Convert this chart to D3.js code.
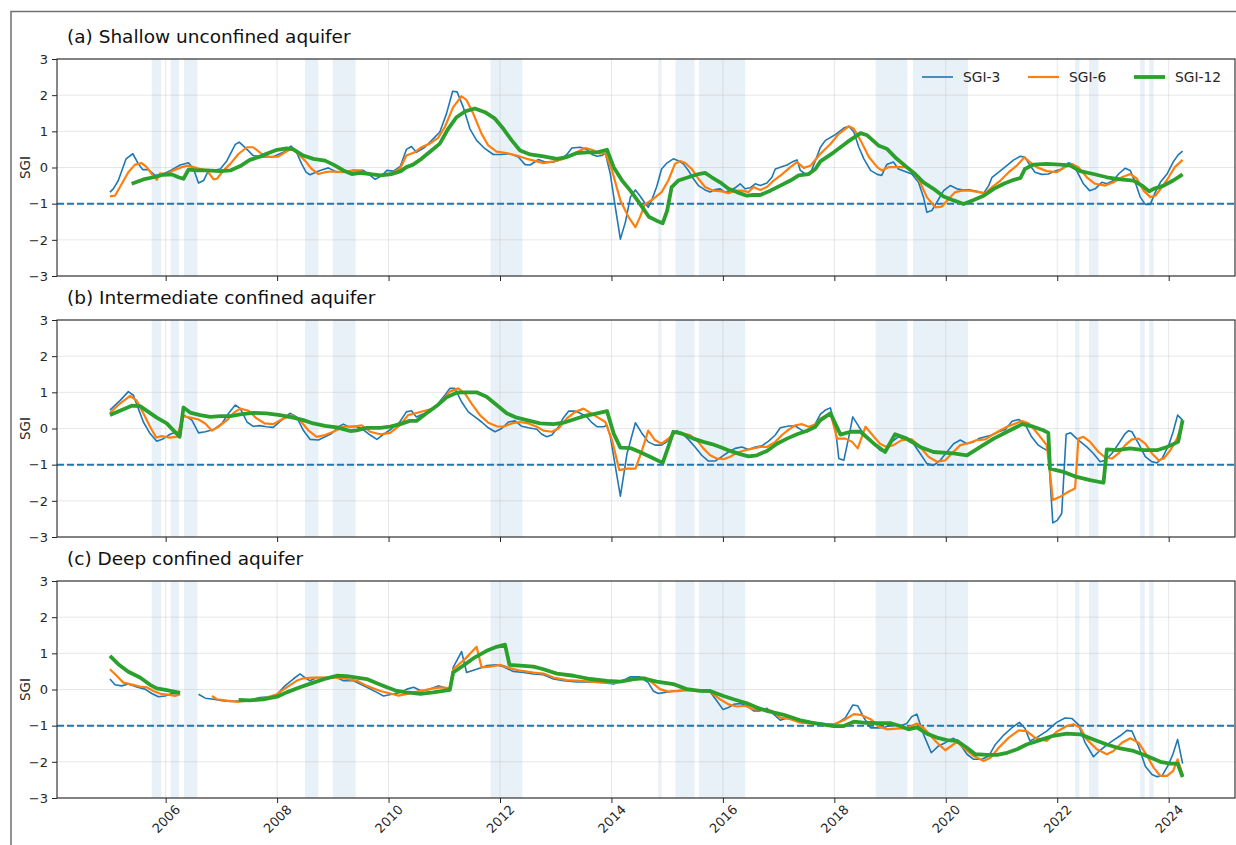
<!doctype html>
<html lang="en">
<head>
<meta charset="utf-8">
<title>SGI-3 / SGI-6 / SGI-12</title>
<script src="https://cdn.jsdelivr.net/npm/d3@7"></script>
<style>
  body { margin: 0; background: #fff; }
  svg { display: block; font-family: "DejaVu Sans", sans-serif; }
</style>
</head>
<body>
<svg id="chart" width="1236" height="845"></svg>
<script>
// ---- data (decimal year, SGI) ----
var panelTitles = ['(a) Shallow unconfined aquifer', '(b) Intermediate confined aquifer', '(c) Deep confined aquifer'];
var seriesNames = ['SGI-3', 'SGI-6', 'SGI-12'];
var yearTicks = [2006, 2008, 2010, 2012, 2014, 2016, 2018, 2020, 2022, 2024];
var sgiTicks = [-3, -2, -1, 0, 1, 2, 3];
var threshold = -1;

// drought periods (shaded)
var dryPeriods = [
  [2005.75, 2005.92], [2006.09, 2006.24], [2006.33, 2006.57],
  [2008.50, 2008.74], [2009.00, 2009.41],
  [2011.83, 2012.40],
  [2014.84, 2014.90], [2015.15, 2015.49], [2015.57, 2016.40],
  [2018.74, 2019.31], [2019.41, 2020.40],
  [2022.32, 2022.40], [2022.57, 2022.74],
  [2023.49, 2023.57], [2023.65, 2023.73]
];

var shallow3 = [[2005.00,-0.68],[2005.06,-0.59],[2005.15,-0.36],[2005.29,0.24],[2005.41,0.38],[2005.51,0.10],[2005.59,-0.06],[2005.69,-0.06],[2005.81,-0.22],[2005.96,-0.18],[2006.09,-0.08],[2006.26,0.07],[2006.41,0.13],[2006.50,-0.04],[2006.59,-0.43],[2006.68,-0.36],[2006.77,-0.08],[2006.86,-0.08],[2006.98,-0.04],[2007.10,0.19],[2007.25,0.64],[2007.32,0.70],[2007.46,0.50],[2007.57,0.33],[2007.75,0.29],[2007.93,0.30],[2008.11,0.42],[2008.25,0.59],[2008.35,0.42],[2008.44,0.10],[2008.52,-0.13],[2008.59,-0.20],[2008.77,-0.08],[2008.92,-0.01],[2009.07,-0.13],[2009.25,-0.13],[2009.37,-0.08],[2009.55,-0.08],[2009.67,-0.22],[2009.76,-0.33],[2009.88,-0.22],[2009.97,-0.08],[2010.09,-0.10],[2010.21,0.03],[2010.32,0.50],[2010.41,0.58],[2010.50,0.42],[2010.65,0.56],[2010.80,0.79],[2010.92,0.98],[2011.04,1.49],[2011.15,2.11],[2011.23,2.09],[2011.34,1.67],[2011.46,1.07],[2011.58,0.75],[2011.73,0.52],[2011.88,0.36],[2012.00,0.36],[2012.18,0.38],[2012.33,0.29],[2012.45,0.08],[2012.54,0.07],[2012.69,0.22],[2012.81,0.15],[2012.96,0.15],[2013.08,0.21],[2013.20,0.36],[2013.29,0.54],[2013.44,0.56],[2013.56,0.50],[2013.65,0.36],[2013.74,0.31],[2013.83,0.33],[2013.89,0.40],[2013.98,-0.18],[2014.07,-1.10],[2014.16,-1.98],[2014.25,-1.51],[2014.34,-0.82],[2014.43,-0.62],[2014.51,-0.78],[2014.60,-0.98],[2014.66,-1.10],[2014.72,-0.91],[2014.81,-0.54],[2014.90,-0.04],[2015.00,0.13],[2015.11,0.24],[2015.20,0.19],[2015.29,0.10],[2015.38,-0.08],[2015.47,-0.31],[2015.56,-0.50],[2015.68,-0.62],[2015.77,-0.68],[2015.86,-0.61],[2015.95,-0.59],[2016.04,-0.68],[2016.13,-0.64],[2016.22,-0.56],[2016.31,-0.45],[2016.40,-0.59],[2016.49,-0.56],[2016.58,-0.45],[2016.67,-0.50],[2016.79,-0.43],[2016.88,-0.27],[2016.94,-0.04],[2017.03,0.01],[2017.15,0.07],[2017.24,0.15],[2017.33,0.21],[2017.39,-0.08],[2017.48,-0.18],[2017.57,-0.16],[2017.66,0.19],[2017.75,0.56],[2017.84,0.75],[2018.00,0.89],[2018.17,1.09],[2018.26,1.14],[2018.35,0.98],[2018.44,0.56],[2018.53,0.24],[2018.65,-0.08],[2018.77,-0.19],[2018.85,-0.22],[2018.94,0.08],[2019.06,0.15],[2019.15,-0.04],[2019.27,-0.11],[2019.39,-0.18],[2019.51,-0.41],[2019.60,-0.82],[2019.66,-1.24],[2019.75,-1.19],[2019.84,-0.96],[2019.96,-0.64],[2020.08,-0.50],[2020.20,-0.59],[2020.32,-0.62],[2020.44,-0.62],[2020.56,-0.66],[2020.68,-0.71],[2020.77,-0.50],[2020.83,-0.27],[2020.95,-0.13],[2021.10,0.06],[2021.22,0.21],[2021.34,0.31],[2021.42,0.28],[2021.51,0.06],[2021.60,-0.13],[2021.72,-0.19],[2021.84,-0.18],[2021.96,-0.10],[2022.08,-0.04],[2022.20,0.13],[2022.29,0.08],[2022.38,-0.18],[2022.47,-0.45],[2022.58,-0.64],[2022.68,-0.59],[2022.80,-0.41],[2022.89,-0.45],[2023.01,-0.36],[2023.10,-0.18],[2023.22,-0.02],[2023.31,-0.08],[2023.40,-0.41],[2023.49,-0.82],[2023.58,-1.02],[2023.67,-1.02],[2023.76,-0.68],[2023.85,-0.41],[2023.97,-0.18],[2024.08,0.15],[2024.17,0.35],[2024.25,0.45]];
var shallow6 = [[2005.00,-0.80],[2005.09,-0.78],[2005.18,-0.54],[2005.33,-0.13],[2005.45,0.08],[2005.57,0.12],[2005.66,0.01],[2005.75,-0.18],[2005.84,-0.34],[2005.90,-0.16],[2006.02,-0.18],[2006.14,-0.08],[2006.29,0.01],[2006.38,0.05],[2006.50,0.01],[2006.62,-0.04],[2006.74,-0.08],[2006.86,-0.33],[2006.92,-0.31],[2007.04,-0.08],[2007.16,0.10],[2007.31,0.38],[2007.46,0.56],[2007.57,0.56],[2007.72,0.38],[2007.87,0.29],[2008.02,0.30],[2008.17,0.45],[2008.26,0.52],[2008.38,0.38],[2008.50,0.19],[2008.62,-0.04],[2008.74,-0.18],[2008.86,-0.13],[2008.98,-0.11],[2009.19,-0.13],[2009.37,-0.08],[2009.49,-0.10],[2009.67,-0.18],[2009.85,-0.22],[2010.03,-0.19],[2010.21,-0.02],[2010.32,0.33],[2010.47,0.42],[2010.59,0.56],[2010.74,0.66],[2010.89,0.82],[2011.01,1.12],[2011.16,1.67],[2011.31,1.97],[2011.40,1.86],[2011.52,1.49],[2011.67,0.93],[2011.79,0.61],[2011.94,0.44],[2012.12,0.40],[2012.30,0.33],[2012.48,0.24],[2012.66,0.17],[2012.78,0.12],[2012.96,0.17],[2013.14,0.24],[2013.32,0.38],[2013.53,0.54],[2013.65,0.49],[2013.80,0.38],[2013.89,0.40],[2014.01,-0.08],[2014.16,-0.91],[2014.31,-1.38],[2014.43,-1.65],[2014.51,-1.38],[2014.60,-1.02],[2014.75,-0.87],[2014.90,-0.68],[2015.02,-0.36],[2015.14,0.10],[2015.23,0.18],[2015.32,0.13],[2015.44,-0.04],[2015.56,-0.31],[2015.68,-0.54],[2015.83,-0.64],[2015.98,-0.66],[2016.10,-0.71],[2016.22,-0.64],[2016.34,-0.64],[2016.46,-0.68],[2016.55,-0.54],[2016.67,-0.62],[2016.79,-0.54],[2016.91,-0.36],[2017.06,-0.19],[2017.21,0.01],[2017.33,0.15],[2017.45,-0.01],[2017.57,0.05],[2017.75,0.38],[2017.93,0.65],[2018.08,0.93],[2018.26,1.14],[2018.35,1.07],[2018.47,0.75],[2018.62,0.29],[2018.77,0.01],[2018.85,-0.08],[2018.97,0.01],[2019.12,0.01],[2019.30,0.01],[2019.42,-0.13],[2019.54,-0.41],[2019.66,-0.82],[2019.81,-1.10],[2019.93,-1.08],[2020.05,-0.87],[2020.17,-0.68],[2020.29,-0.64],[2020.44,-0.64],[2020.59,-0.68],[2020.71,-0.71],[2020.83,-0.54],[2020.98,-0.36],[2021.13,-0.13],[2021.28,0.06],[2021.41,0.28],[2021.51,0.15],[2021.63,0.01],[2021.81,-0.10],[2021.99,-0.13],[2022.14,0.01],[2022.26,0.10],[2022.38,0.01],[2022.53,-0.27],[2022.68,-0.45],[2022.86,-0.50],[2023.01,-0.41],[2023.16,-0.27],[2023.31,-0.18],[2023.43,-0.31],[2023.55,-0.64],[2023.67,-0.82],[2023.76,-0.78],[2023.88,-0.54],[2024.00,-0.27],[2024.11,0.01],[2024.25,0.21]];
var shallow12 = [[2005.39,-0.45],[2005.60,-0.33],[2005.78,-0.27],[2005.96,-0.20],[2006.11,-0.19],[2006.23,-0.27],[2006.32,-0.31],[2006.41,-0.06],[2006.56,-0.08],[2006.74,-0.08],[2006.98,-0.10],[2007.16,-0.08],[2007.34,0.04],[2007.51,0.21],[2007.69,0.30],[2007.81,0.38],[2008.00,0.49],[2008.17,0.53],[2008.29,0.50],[2008.47,0.33],[2008.65,0.24],[2008.86,0.19],[2009.01,0.08],[2009.19,-0.08],[2009.34,-0.18],[2009.49,-0.15],[2009.67,-0.18],[2009.85,-0.22],[2010.06,-0.18],[2010.22,-0.10],[2010.32,0.01],[2010.44,0.08],[2010.59,0.24],[2010.77,0.47],[2010.92,0.66],[2011.07,1.07],[2011.22,1.39],[2011.37,1.55],[2011.55,1.63],[2011.73,1.53],[2011.91,1.35],[2012.06,1.07],[2012.21,0.75],[2012.36,0.47],[2012.54,0.36],[2012.78,0.31],[2013.02,0.24],[2013.20,0.29],[2013.38,0.40],[2013.56,0.42],[2013.74,0.42],[2013.92,0.49],[2014.04,0.01],[2014.19,-0.36],[2014.34,-0.64],[2014.49,-0.96],[2014.67,-1.36],[2014.81,-1.47],[2014.92,-1.54],[2015.00,-1.19],[2015.08,-0.54],[2015.20,-0.36],[2015.38,-0.27],[2015.56,-0.18],[2015.68,-0.15],[2015.80,-0.27],[2015.95,-0.41],[2016.10,-0.59],[2016.25,-0.68],[2016.43,-0.78],[2016.55,-0.76],[2016.67,-0.76],[2016.85,-0.64],[2017.03,-0.50],[2017.21,-0.36],[2017.36,-0.22],[2017.54,-0.18],[2017.66,-0.04],[2017.75,0.17],[2017.99,0.42],[2018.23,0.70],[2018.47,0.95],[2018.59,0.89],[2018.79,0.61],[2018.94,0.52],[2019.12,0.24],[2019.30,0.01],[2019.45,-0.18],[2019.60,-0.41],[2019.78,-0.59],[2019.96,-0.80],[2020.14,-0.91],[2020.32,-1.01],[2020.50,-0.90],[2020.68,-0.78],[2020.86,-0.59],[2021.04,-0.45],[2021.22,-0.34],[2021.34,-0.29],[2021.42,-0.04],[2021.57,0.08],[2021.81,0.10],[2022.05,0.08],[2022.23,0.06],[2022.41,-0.10],[2022.65,-0.18],[2022.89,-0.27],[2023.13,-0.33],[2023.37,-0.36],[2023.52,-0.50],[2023.65,-0.66],[2023.73,-0.59],[2023.91,-0.50],[2024.08,-0.36],[2024.25,-0.19]];

var inter3 = [[2005.00,0.51],[2005.18,0.77],[2005.33,1.02],[2005.42,0.92],[2005.51,0.55],[2005.60,0.18],[2005.72,-0.14],[2005.84,-0.35],[2005.96,-0.28],[2006.08,-0.16],[2006.20,-0.09],[2006.26,-0.23],[2006.32,0.37],[2006.38,0.32],[2006.47,0.23],[2006.59,-0.12],[2006.71,-0.09],[2006.86,-0.03],[2007.01,0.14],[2007.13,0.42],[2007.25,0.65],[2007.34,0.55],[2007.46,0.18],[2007.57,0.06],[2007.69,0.08],[2007.81,0.05],[2007.93,0.03],[2008.08,0.23],[2008.23,0.42],[2008.35,0.32],[2008.47,-0.05],[2008.59,-0.30],[2008.74,-0.32],[2008.86,-0.23],[2008.98,-0.14],[2009.10,0.05],[2009.19,0.12],[2009.28,0.05],[2009.40,0.06],[2009.52,0.00],[2009.67,-0.18],[2009.79,-0.30],[2009.91,-0.16],[2010.06,0.00],[2010.20,0.18],[2010.32,0.46],[2010.41,0.49],[2010.50,0.32],[2010.62,0.40],[2010.74,0.46],[2010.89,0.69],[2011.01,0.92],[2011.10,1.11],[2011.19,1.11],[2011.31,0.74],[2011.43,0.46],[2011.55,0.32],[2011.67,0.18],[2011.79,0.02],[2011.91,-0.09],[2012.03,0.00],[2012.15,0.18],[2012.27,0.21],[2012.39,0.06],[2012.51,0.02],[2012.66,-0.02],[2012.75,-0.16],[2012.84,-0.23],[2012.93,-0.18],[2013.05,0.05],[2013.14,0.30],[2013.23,0.48],[2013.35,0.48],[2013.44,0.42],[2013.56,0.32],[2013.65,0.16],[2013.74,0.05],[2013.86,0.05],[2013.92,0.09],[2013.98,-0.23],[2014.16,-1.87],[2014.28,-0.69],[2014.43,0.16],[2014.55,-0.14],[2014.66,-0.37],[2014.78,-0.46],[2014.90,-0.46],[2014.99,-0.37],[2015.08,-0.18],[2015.17,-0.06],[2015.26,-0.12],[2015.38,-0.30],[2015.50,-0.51],[2015.62,-0.74],[2015.74,-0.90],[2015.86,-0.90],[2015.98,-0.78],[2016.10,-0.65],[2016.22,-0.55],[2016.34,-0.51],[2016.46,-0.58],[2016.58,-0.51],[2016.70,-0.48],[2016.82,-0.35],[2016.94,-0.18],[2017.03,0.02],[2017.18,0.07],[2017.30,0.07],[2017.42,-0.05],[2017.51,-0.09],[2017.63,0.05],[2017.75,0.40],[2017.84,0.51],[2017.93,0.57],[2018.02,0.00],[2018.08,-0.83],[2018.17,-0.88],[2018.26,-0.23],[2018.33,0.32],[2018.44,0.05],[2018.56,-0.23],[2018.71,-0.42],[2018.82,-0.60],[2018.91,-0.65],[2019.03,-0.37],[2019.15,-0.23],[2019.27,-0.30],[2019.42,-0.42],[2019.54,-0.69],[2019.66,-0.97],[2019.78,-1.02],[2019.90,-0.88],[2020.02,-0.65],[2020.14,-0.42],[2020.26,-0.32],[2020.38,-0.42],[2020.50,-0.37],[2020.59,-0.28],[2020.71,-0.23],[2020.83,-0.18],[2020.95,-0.09],[2021.07,-0.03],[2021.19,0.20],[2021.31,0.25],[2021.43,0.09],[2021.54,-0.23],[2021.66,-0.46],[2021.75,-0.55],[2021.84,-0.62],[2021.92,-2.61],[2022.00,-2.54],[2022.08,-2.35],[2022.16,-0.16],[2022.24,-0.12],[2022.38,-0.32],[2022.53,-0.51],[2022.65,-0.69],[2022.77,-0.92],[2022.86,-0.88],[2022.98,-0.69],[2023.10,-0.42],[2023.22,-0.14],[2023.28,-0.06],[2023.34,-0.09],[2023.46,-0.42],[2023.58,-0.78],[2023.70,-0.92],[2023.79,-0.95],[2023.88,-0.83],[2024.00,-0.46],[2024.08,-0.09],[2024.16,0.37],[2024.25,0.23]];
var inter6 = [[2005.00,0.43],[2005.18,0.69],[2005.36,0.90],[2005.48,0.77],[2005.60,0.42],[2005.72,0.05],[2005.83,-0.25],[2005.93,-0.21],[2006.05,-0.25],[2006.20,-0.23],[2006.32,0.34],[2006.44,0.30],[2006.59,0.25],[2006.71,0.14],[2006.83,-0.06],[2006.95,0.05],[2007.10,0.23],[2007.22,0.43],[2007.34,0.55],[2007.49,0.49],[2007.63,0.28],[2007.78,0.14],[2007.93,0.12],[2008.08,0.25],[2008.26,0.37],[2008.41,0.23],[2008.56,-0.05],[2008.71,-0.23],[2008.86,-0.18],[2009.01,-0.09],[2009.19,0.05],[2009.37,0.05],[2009.52,0.09],[2009.67,-0.09],[2009.85,-0.16],[2010.03,-0.12],[2010.21,0.10],[2010.35,0.37],[2010.50,0.43],[2010.65,0.49],[2010.80,0.55],[2010.95,0.74],[2011.10,1.02],[2011.25,1.11],[2011.37,0.97],[2011.49,0.69],[2011.64,0.37],[2011.79,0.16],[2011.94,0.06],[2012.06,0.05],[2012.21,0.14],[2012.36,0.18],[2012.51,0.14],[2012.66,0.05],[2012.78,-0.06],[2012.93,-0.09],[2013.05,0.00],[2013.20,0.28],[2013.35,0.46],[2013.50,0.55],[2013.62,0.43],[2013.74,0.32],[2013.89,0.18],[2014.01,-0.32],[2014.14,-1.15],[2014.28,-1.11],[2014.43,-1.11],[2014.55,-0.60],[2014.66,-0.06],[2014.78,-0.32],[2014.90,-0.42],[2015.02,-0.28],[2015.17,-0.09],[2015.29,-0.14],[2015.41,-0.18],[2015.53,-0.32],[2015.65,-0.55],[2015.77,-0.74],[2015.89,-0.83],[2016.01,-0.85],[2016.13,-0.78],[2016.25,-0.67],[2016.40,-0.60],[2016.55,-0.55],[2016.67,-0.51],[2016.79,-0.51],[2016.94,-0.37],[2017.06,-0.18],[2017.18,-0.03],[2017.30,0.09],[2017.42,0.12],[2017.54,0.05],[2017.66,0.12],[2017.75,0.27],[2017.93,0.43],[2018.05,-0.28],[2018.20,-0.28],[2018.32,-0.37],[2018.42,-0.55],[2018.56,0.05],[2018.71,-0.23],[2018.82,-0.42],[2018.94,-0.51],[2019.06,-0.46],[2019.21,-0.32],[2019.39,-0.30],[2019.54,-0.51],[2019.69,-0.78],[2019.84,-0.92],[2019.99,-0.88],[2020.11,-0.69],[2020.26,-0.46],[2020.41,-0.40],[2020.56,-0.32],[2020.71,-0.30],[2020.83,-0.18],[2020.98,-0.05],[2021.10,0.05],[2021.25,0.14],[2021.37,0.21],[2021.49,0.14],[2021.60,-0.05],[2021.72,-0.28],[2021.81,-0.46],[2021.86,-1.06],[2021.92,-1.98],[2022.05,-1.89],[2022.20,-1.75],[2022.32,-1.66],[2022.38,-0.28],[2022.47,-0.23],[2022.59,-0.37],[2022.74,-0.65],[2022.86,-0.80],[2022.98,-0.83],[2023.10,-0.69],[2023.22,-0.46],[2023.34,-0.30],[2023.46,-0.28],[2023.58,-0.42],[2023.70,-0.69],[2023.82,-0.88],[2023.91,-0.83],[2024.03,-0.60],[2024.15,-0.28],[2024.25,0.18]];
var inter12 = [[2005.00,0.37],[2005.18,0.49],[2005.39,0.63],[2005.54,0.62],[2005.69,0.46],[2005.84,0.30],[2006.02,0.14],[2006.14,-0.05],[2006.25,-0.23],[2006.32,0.58],[2006.44,0.44],[2006.62,0.37],[2006.80,0.32],[2006.98,0.34],[2007.16,0.34],[2007.34,0.39],[2007.57,0.43],[2007.81,0.42],[2008.05,0.37],[2008.29,0.30],[2008.47,0.23],[2008.65,0.14],[2008.86,0.07],[2009.07,0.03],[2009.31,-0.07],[2009.43,-0.05],[2009.61,0.02],[2009.85,0.02],[2010.03,0.05],[2010.21,0.12],[2010.38,0.21],[2010.50,0.21],[2010.68,0.42],[2010.86,0.62],[2011.04,0.86],[2011.22,0.99],[2011.40,1.00],[2011.58,1.00],[2011.76,0.88],[2011.94,0.65],[2012.12,0.42],[2012.30,0.30],[2012.48,0.23],[2012.72,0.14],[2012.96,0.12],[2013.14,0.16],[2013.32,0.25],[2013.50,0.34],[2013.68,0.40],[2013.92,0.48],[2014.04,-0.14],[2014.16,-0.53],[2014.34,-0.54],[2014.51,-0.65],[2014.72,-0.80],[2014.92,-0.95],[2015.02,-0.51],[2015.11,-0.09],[2015.26,-0.14],[2015.47,-0.28],[2015.65,-0.37],[2015.80,-0.43],[2015.95,-0.51],[2016.13,-0.62],[2016.31,-0.71],[2016.46,-0.77],[2016.61,-0.74],[2016.79,-0.62],[2016.97,-0.42],[2017.15,-0.28],[2017.33,-0.16],[2017.51,-0.06],[2017.66,0.05],[2017.75,0.23],[2017.93,0.42],[2018.11,-0.17],[2018.29,-0.09],[2018.47,-0.09],[2018.71,-0.42],[2018.91,-0.65],[2019.09,-0.16],[2019.30,-0.28],[2019.54,-0.51],[2019.78,-0.65],[2020.14,-0.69],[2020.38,-0.74],[2020.62,-0.51],[2020.86,-0.28],[2021.10,-0.09],[2021.37,0.12],[2021.57,0.05],[2021.75,-0.05],[2021.84,-0.12],[2021.87,-1.11],[2022.11,-1.20],[2022.35,-1.34],[2022.59,-1.43],[2022.83,-1.50],[2022.89,-0.58],[2023.07,-0.60],[2023.31,-0.55],[2023.55,-0.60],[2023.79,-0.60],[2023.97,-0.51],[2024.17,-0.37],[2024.25,0.23]];

// deep series have a gap in 2006-2007 (null)
var deep3 = [[2005.00,0.29],[2005.09,0.13],[2005.21,0.10],[2005.33,0.15],[2005.48,0.07],[2005.63,0.01],[2005.75,-0.11],[2005.87,-0.20],[2005.99,-0.18],[2006.11,-0.11],[2006.26,-0.13],[2006.40,null],[2006.59,-0.13],[2006.71,-0.24],[2006.86,-0.27],[2007.01,-0.31],[2007.16,-0.33],[2007.34,-0.31],[2007.51,-0.30],[2007.69,-0.22],[2007.87,-0.20],[2008.00,-0.13],[2008.14,0.10],[2008.29,0.29],[2008.41,0.43],[2008.50,0.33],[2008.59,0.24],[2008.71,0.33],[2008.89,0.33],[2009.07,0.33],[2009.19,0.24],[2009.37,0.24],[2009.49,0.15],[2009.61,0.06],[2009.79,-0.08],[2009.91,-0.18],[2010.06,-0.13],[2010.21,-0.08],[2010.33,0.01],[2010.45,0.06],[2010.57,-0.03],[2010.68,-0.02],[2010.89,0.10],[2010.98,0.06],[2011.10,0.01],[2011.16,0.61],[2011.31,1.05],[2011.40,0.47],[2011.58,0.56],[2011.76,0.66],[2011.94,0.68],[2012.06,0.63],[2012.24,0.50],[2012.42,0.47],[2012.60,0.43],[2012.78,0.41],[2012.96,0.29],[2013.14,0.24],[2013.38,0.21],[2013.62,0.21],[2013.86,0.19],[2014.04,0.15],[2014.22,0.26],[2014.34,0.35],[2014.51,0.35],[2014.66,0.19],[2014.75,-0.04],[2014.84,-0.11],[2014.96,-0.08],[2015.11,-0.04],[2015.29,-0.02],[2015.47,-0.02],[2015.65,-0.06],[2015.77,-0.06],[2015.89,-0.31],[2016.00,-0.55],[2016.10,-0.50],[2016.19,-0.41],[2016.31,-0.39],[2016.43,-0.45],[2016.55,-0.59],[2016.67,-0.59],[2016.79,-0.52],[2016.91,-0.68],[2017.03,-0.85],[2017.15,-0.79],[2017.27,-0.82],[2017.39,-0.87],[2017.57,-0.93],[2017.75,-0.93],[2017.93,-0.97],[2018.05,-0.94],[2018.20,-0.78],[2018.33,-0.43],[2018.42,-0.45],[2018.53,-0.78],[2018.65,-1.06],[2018.79,-1.06],[2018.91,-1.04],[2019.03,-0.98],[2019.18,-1.01],[2019.30,-0.94],[2019.39,-0.75],[2019.48,-0.68],[2019.60,-1.24],[2019.74,-1.75],[2019.87,-1.56],[2019.99,-1.47],[2020.14,-1.35],[2020.26,-1.52],[2020.38,-1.79],[2020.50,-1.93],[2020.65,-1.93],[2020.77,-1.84],[2020.89,-1.52],[2021.04,-1.26],[2021.19,-1.05],[2021.32,-0.91],[2021.42,-1.07],[2021.51,-1.42],[2021.63,-1.33],[2021.81,-1.15],[2021.99,-0.91],[2022.14,-0.79],[2022.26,-0.80],[2022.38,-0.97],[2022.50,-1.47],[2022.65,-1.86],[2022.77,-1.68],[2022.89,-1.53],[2023.01,-1.40],[2023.13,-1.28],[2023.25,-1.13],[2023.34,-1.15],[2023.46,-1.57],[2023.58,-2.12],[2023.70,-2.35],[2023.79,-2.41],[2023.88,-2.39],[2024.00,-2.07],[2024.08,-1.77],[2024.16,-1.38],[2024.25,-2.05]];
var deep6 = [[2005.00,0.56],[2005.12,0.38],[2005.24,0.19],[2005.36,0.15],[2005.54,0.08],[2005.66,0.06],[2005.78,-0.04],[2005.93,-0.13],[2006.08,-0.15],[2006.17,-0.18],[2006.26,-0.13],[2006.50,null],[2006.83,-0.18],[2006.92,-0.27],[2007.10,-0.31],[2007.28,-0.34],[2007.46,-0.31],[2007.64,-0.27],[2007.81,-0.22],[2008.00,-0.13],[2008.17,0.06],[2008.35,0.24],[2008.47,0.31],[2008.65,0.33],[2008.89,0.33],[2009.07,0.33],[2009.25,0.29],[2009.43,0.24],[2009.61,0.10],[2009.85,-0.04],[2010.03,-0.11],[2010.18,-0.17],[2010.33,-0.12],[2010.51,-0.06],[2010.74,0.01],[2010.92,0.06],[2011.10,0.04],[2011.16,0.56],[2011.37,0.84],[2011.58,1.18],[2011.67,0.61],[2011.82,0.63],[2012.00,0.68],[2012.18,0.59],[2012.36,0.52],[2012.60,0.47],[2012.78,0.44],[2012.96,0.33],[2013.20,0.26],[2013.44,0.24],[2013.68,0.21],[2013.92,0.19],[2014.10,0.19],[2014.28,0.26],[2014.46,0.31],[2014.61,0.33],[2014.73,0.19],[2014.87,0.01],[2015.02,-0.06],[2015.23,-0.04],[2015.41,-0.02],[2015.59,-0.04],[2015.77,-0.06],[2015.95,-0.27],[2016.10,-0.41],[2016.25,-0.47],[2016.40,-0.45],[2016.55,-0.55],[2016.73,-0.55],[2016.88,-0.59],[2017.03,-0.78],[2017.21,-0.82],[2017.39,-0.92],[2017.57,-0.94],[2017.75,-0.96],[2017.99,-0.96],[2018.17,-0.85],[2018.35,-0.68],[2018.47,-0.70],[2018.65,-0.82],[2018.79,-1.02],[2018.94,-1.10],[2019.12,-1.08],[2019.30,-1.07],[2019.48,-0.94],[2019.60,-1.06],[2019.81,-1.42],[2019.99,-1.68],[2020.20,-1.45],[2020.35,-1.65],[2020.50,-1.84],[2020.68,-1.98],[2020.80,-1.89],[2020.95,-1.61],[2021.13,-1.33],[2021.31,-1.13],[2021.45,-1.15],[2021.60,-1.33],[2021.81,-1.42],[2021.99,-1.17],[2022.17,-1.01],[2022.29,-0.96],[2022.41,-1.05],[2022.53,-1.38],[2022.71,-1.65],[2022.89,-1.79],[2023.01,-1.70],[2023.16,-1.47],[2023.31,-1.35],[2023.46,-1.47],[2023.58,-1.75],[2023.73,-2.16],[2023.85,-2.39],[2023.97,-2.39],[2024.08,-2.25],[2024.16,-1.93],[2024.25,-2.35]];
var deep12 = [[2005.00,0.93],[2005.15,0.70],[2005.33,0.49],[2005.54,0.33],[2005.72,0.13],[2005.84,0.03],[2006.02,-0.02],[2006.26,-0.09],[2006.80,null],[2007.31,-0.29],[2007.51,-0.30],[2007.75,-0.27],[2008.00,-0.20],[2008.17,-0.08],[2008.41,0.06],[2008.65,0.19],[2008.89,0.31],[2009.07,0.38],[2009.25,0.37],[2009.43,0.33],[2009.61,0.29],[2009.79,0.17],[2009.97,0.06],[2010.15,-0.04],[2010.33,-0.08],[2010.57,-0.12],[2010.80,-0.08],[2010.98,-0.04],[2011.10,-0.01],[2011.16,0.47],[2011.34,0.66],[2011.55,0.89],[2011.76,1.07],[2011.94,1.18],[2012.09,1.24],[2012.17,0.68],[2012.36,0.66],[2012.60,0.63],[2012.78,0.56],[2013.02,0.44],[2013.32,0.38],[2013.62,0.29],[2013.92,0.24],[2014.16,0.22],[2014.40,0.29],[2014.57,0.31],[2014.81,0.22],[2015.11,0.15],[2015.35,0.01],[2015.59,-0.04],[2015.77,-0.04],[2016.01,-0.18],[2016.19,-0.27],[2016.43,-0.38],[2016.61,-0.50],[2016.79,-0.59],[2017.09,-0.70],[2017.39,-0.85],[2017.57,-0.91],[2017.75,-0.96],[2017.99,-1.01],[2018.17,-1.01],[2018.35,-0.89],[2018.56,-0.92],[2018.77,-0.93],[2019.00,-0.93],[2019.18,-1.01],[2019.33,-1.10],[2019.48,-1.05],[2019.66,-1.22],[2019.84,-1.33],[2020.02,-1.40],[2020.20,-1.42],[2020.38,-1.61],[2020.53,-1.79],[2020.74,-1.81],[2020.92,-1.81],[2021.10,-1.75],[2021.28,-1.65],[2021.45,-1.52],[2021.69,-1.40],[2021.93,-1.28],[2022.17,-1.22],[2022.41,-1.24],[2022.65,-1.38],[2022.89,-1.52],[2023.13,-1.63],[2023.37,-1.70],[2023.61,-1.84],[2023.85,-2.00],[2024.03,-2.05],[2024.16,-2.05],[2024.25,-2.42]];

var panelSeries = [
  [shallow3, shallow6, shallow12],
  [inter3, inter6, inter12],
  [deep3, deep6, deep12]
];

// ---- layout ----
var colors = ['#1f77b4', '#ff7f0e', '#2ca02c'];
var widths = [1.6, 2.2, 3.8];
var panelTops = [59, 320, 581];
var panelH = 217;
var left = 57, right = 1235;

var svg = d3.select('#chart');

// outer figure frame
svg.append('rect')
  .attr('x', 11).attr('y', 11.5).attr('width', 1300).attr('height', 900)
  .attr('fill', 'none').attr('stroke', '#707070').attr('stroke-width', 1.5);

var x = d3.scaleLinear().domain([2004.05, 2025.19]).range([left, right]);
var fmtMinus = function(d) { return d < 0 ? '\u2212' + Math.abs(d) : String(d); };

panelSeries.forEach(function(series, i) {
  var top = panelTops[i];
  var y = d3.scaleLinear().domain([-3, 3]).range([top + panelH, top]);
  var g = svg.append('g');

  // shaded drought periods
  g.selectAll('rect.dry').data(dryPeriods).enter().append('rect')
    .attr('class', 'dry')
    .attr('x', function(d) { return x(d[0]); })
    .attr('width', function(d) { return x(d[1]) - x(d[0]); })
    .attr('y', top).attr('height', panelH)
    .attr('fill', '#1f77b4').attr('fill-opacity', 0.1);

  // grid
  g.selectAll('line.gy').data(sgiTicks).enter().append('line')
    .attr('x1', left).attr('x2', right)
    .attr('y1', function(d) { return y(d); }).attr('y2', function(d) { return y(d); })
    .attr('stroke', '#b0b0b0').attr('stroke-opacity', 0.3).attr('stroke-width', 1);
  g.selectAll('line.gx').data(yearTicks).enter().append('line')
    .attr('x1', function(d) { return x(d); }).attr('x2', function(d) { return x(d); })
    .attr('y1', top).attr('y2', top + panelH)
    .attr('stroke', '#b0b0b0').attr('stroke-opacity', 0.3).attr('stroke-width', 1);

  // -1 threshold
  g.append('line')
    .attr('x1', left).attr('x2', right)
    .attr('y1', y(threshold)).attr('y2', y(threshold))
    .attr('stroke', '#1f77b4').attr('stroke-width', 2)
    .attr('stroke-dasharray', '7,3');

  // SGI lines
  var line = d3.line()
    .defined(function(d) { return d[1] !== null; })
    .x(function(d) { return x(d[0]); })
    .y(function(d) { return y(d[1]); });

  series.forEach(function(s, k) {
    g.append('path').datum(s)
      .attr('d', line)
      .attr('fill', 'none')
      .attr('stroke', colors[k])
      .attr('stroke-width', widths[k])
      .attr('stroke-linejoin', 'round')
      .attr('stroke-linecap', 'butt');
  });

  // axes
  var yAxis = g.append('g')
    .attr('transform', 'translate(' + left + ',0)')
    .call(d3.axisLeft(y).tickValues(sgiTicks).tickSize(5).tickPadding(4).tickFormat(fmtMinus));
  yAxis.select('.domain').remove();
  yAxis.selectAll('text').attr('font-size', 13).attr('fill', '#262626').attr('font-family', '"DejaVu Sans", sans-serif');
  yAxis.selectAll('line').attr('stroke', '#262626');

  var xAxis = g.append('g')
    .attr('transform', 'translate(0,' + (top + panelH) + ')')
    .call(d3.axisBottom(x).tickValues(yearTicks).tickSize(5)
      .tickFormat(i === 2 ? d3.format('d') : function() { return ''; }));
  xAxis.select('.domain').remove();
  xAxis.selectAll('line').attr('stroke', '#262626');
  xAxis.selectAll('text')
    .attr('y', 0).attr('dy', null)
    .attr('transform', 'translate(0,21) rotate(-45)')
    .attr('text-anchor', 'middle')
    .attr('dominant-baseline', 'central')
    .attr('font-size', 13).attr('fill', '#262626')
    .attr('font-family', '"DejaVu Sans", sans-serif');

  // axes frame
  g.append('rect')
    .attr('x', left).attr('y', top).attr('width', right - left).attr('height', panelH)
    .attr('fill', 'none').attr('stroke', '#262626').attr('stroke-width', 1.1);

  // y label
  g.append('text')
    .attr('transform', 'translate(25,' + (top + panelH / 2) + ') rotate(-90)')
    .attr('text-anchor', 'middle').attr('dominant-baseline', 'central')
    .attr('font-size', 13.5).attr('fill', '#262626')
    .text('SGI');

  // panel title
  g.append('text')
    .attr('x', 67).attr('y', top - 16)
    .attr('font-size', 18.5).attr('fill', '#111')
    .text(panelTitles[i]);
});

// legend (top panel, no frame)
var legend = svg.append('g').attr('transform', 'translate(922,77)');
seriesNames.forEach(function(name, k) {
  var lg = legend.append('g').attr('transform', 'translate(' + (k * 106) + ',0)');
  lg.append('line').attr('x1', 0).attr('x2', 31).attr('y1', 0).attr('y2', 0)
    .attr('stroke', colors[k]).attr('stroke-width', widths[k]);
  lg.append('text').attr('x', 41).attr('y', 0)
    .attr('dominant-baseline', 'central')
    .attr('font-size', 13.8).attr('fill', '#262626')
    .text(name);
});
</script>
</body>
</html>
